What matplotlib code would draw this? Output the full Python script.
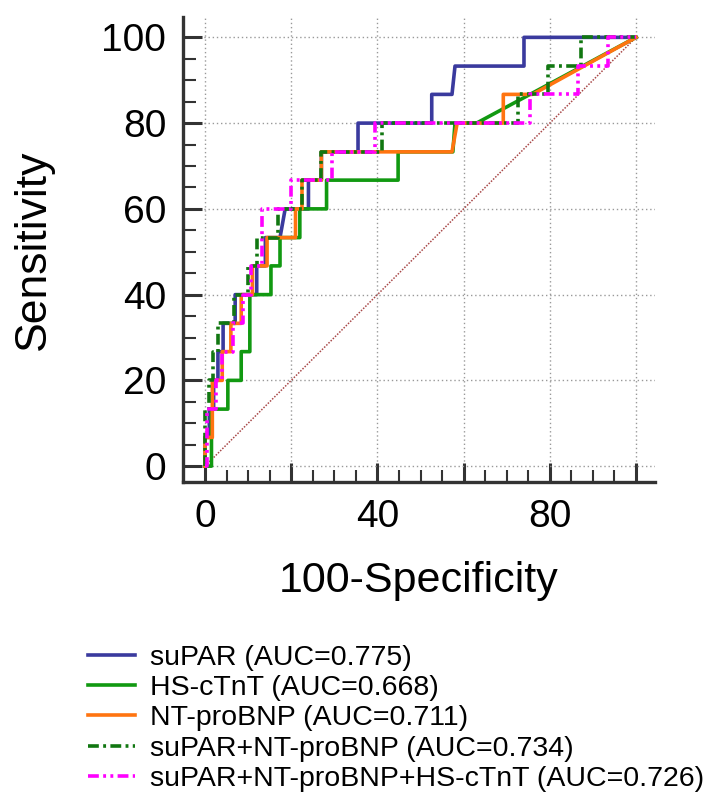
import matplotlib
matplotlib.use("Agg")
import matplotlib.pyplot as plt
from matplotlib.ticker import MultipleLocator

plt.rcParams['font.family'] = ['Liberation Sans', 'DejaVu Sans']

# ROC step points (x = 100-Specificity, y = Sensitivity)
supar_x = [0, 0, 1, 1, 2, 2, 3, 3, 4.2, 4.2, 7, 7, 12, 12, 14, 14, 17.4, 18.6, 24, 24, 27, 27,
           35.5, 35.5, 52.6, 52.6, 57.3, 58, 74, 74, 100]
supar_y = [0, 6.7, 6.7, 13.3, 13.3, 20, 20, 26.7, 26.7, 33.3, 33.3, 40, 40, 46.7, 46.7, 53.3,
           53.3, 60, 60, 66.7, 66.7, 73.3, 73.3, 80, 80, 86.7, 86.7, 93.3, 93.3, 100, 100]

hs_x = [0, 1.5, 1.5, 5.3, 5.3, 8.4, 8.4, 10.4, 10.4, 15.3, 15.3, 17.4, 17.4, 22, 22, 28.2, 28.2,
        44.8, 44.8, 57.5, 58, 63, 100]
hs_y = [0, 0, 13.3, 13.3, 20, 20, 26.7, 26.7, 40, 40, 46.7, 46.7, 53.3, 53.3, 60, 60, 66.7,
        66.7, 73.3, 73.3, 80, 80, 100]

nt_x = [0, 0, 1.7, 1.7, 4, 4, 6, 6, 8.4, 8.4, 11, 11, 14.4, 14.4, 21, 21, 22.5, 22.5, 27, 27,
        57.3, 58.5, 69.2, 69.2, 76, 100]
nt_y = [0, 6.7, 6.7, 20, 20, 26.7, 26.7, 33.3, 33.3, 40, 40, 46.7, 46.7, 53.3, 53.3, 60, 60,
        66.7, 66.7, 73.3, 73.3, 80, 80, 86.7, 86.7, 100]

combo2_x = [0, 0, 1, 1, 1.9, 1.9, 3, 3, 6.8, 6.8, 10, 10, 12, 12, 17, 17, 22.5, 22.5, 27, 27,
            41, 41, 72.6, 72.6, 79.5, 79.5, 87.3, 87.3, 100]
combo2_y = [0, 13.3, 13.3, 20, 20, 26.7, 26.7, 33.3, 33.3, 40, 40, 46.7, 46.7, 53.3, 53.3, 60,
            60, 66.7, 66.7, 73.3, 73.3, 80, 80, 86.7, 86.7, 93.3, 93.3, 100, 100]

combo3_x = [0, 0.5, 0.5, 2.5, 2.5, 4, 4, 6.5, 6.5, 8.8, 8.8, 10.7, 10.7, 13.2, 13.2, 20, 20,
            29.5, 29.5, 39.5, 39.5, 75.4, 75.4, 86.5, 86.5, 93.5, 93.5, 100]
combo3_y = [0, 0, 13.3, 13.3, 20, 20, 26.7, 26.7, 33.3, 33.3, 40, 40, 46.7, 46.7, 60, 60, 66.7,
            66.7, 73.3, 73.3, 80, 80, 86.7, 86.7, 93.3, 93.3, 100, 100]

labels = ["suPAR (AUC=0.775)", "HS-cTnT (AUC=0.668)", "NT-proBNP (AUC=0.711)",
          "suPAR+NT-proBNP (AUC=0.734)", "suPAR+NT-proBNP+HS-cTnT (AUC=0.726)"]

fig = plt.figure(figsize=(7.05, 8.0), dpi=100)
ax = fig.add_axes([0.2596, 0.3975, 0.6695, 0.581])

# chance line
ax.plot([0, 100], [0, 100], color="#a84848", lw=1.1, ls=(0, (1, 1)))

lw = 2.6
ax.plot(supar_x, supar_y, color="#3a3a9e", lw=lw, label=labels[0])
ax.plot(hs_x, hs_y, color="#119911", lw=lw, label=labels[1])
ax.plot(nt_x, nt_y, color="#ff7410", lw=lw, label=labels[2])
ax.plot(combo2_x, combo2_y, color="#117711", lw=lw, ls=(0, (3, 1.2, 0.8, 1.2)), label=labels[3])
ax.plot(combo3_x, combo3_y, color="#ff00ff", lw=lw, ls=(0, (3, 1.2, 0.8, 1.2, 0.8, 1.2)),
        label=labels[4])

ax.set_xlim(-5.1, 104.4)
ax.set_ylim(-3.7, 104.7)
ax.xaxis.set_minor_locator(MultipleLocator(5))
ax.yaxis.set_major_locator(MultipleLocator(20))
ax.yaxis.set_minor_locator(MultipleLocator(5))
ax.set_xticks([0, 20, 40, 60, 80, 100])
ax.set_xticklabels(["0", "", "40", "", "80", ""])

ax.grid(True, which="major", color="#999999", ls=(0, (1, 2)), lw=1.0)
for s in ["top", "right"]:
    ax.spines[s].set_visible(False)
for s in ["left", "bottom"]:
    ax.spines[s].set_linewidth(2.4)
    ax.spines[s].set_color("#333333")

ax.tick_params(which="major", direction="in", length=14, width=2.2, color="#333333",
               labelsize=28, pad=12)
ax.tick_params(which="minor", direction="in", length=9, width=1.5, color="#333333")

ax.set_xlabel("100-Specificity", fontsize=31, labelpad=19)
ax.set_ylabel("Sensitivity", fontsize=32, labelpad=34)

leg = ax.legend(loc="upper left", bbox_to_anchor=(0.125, 0.194), bbox_transform=fig.transFigure,
                frameon=False, fontsize=20.5, handlelength=1.65, handletextpad=0.52,
                labelspacing=0.15, borderpad=0, borderaxespad=0)

fig.savefig("out.png", dpi=100)
